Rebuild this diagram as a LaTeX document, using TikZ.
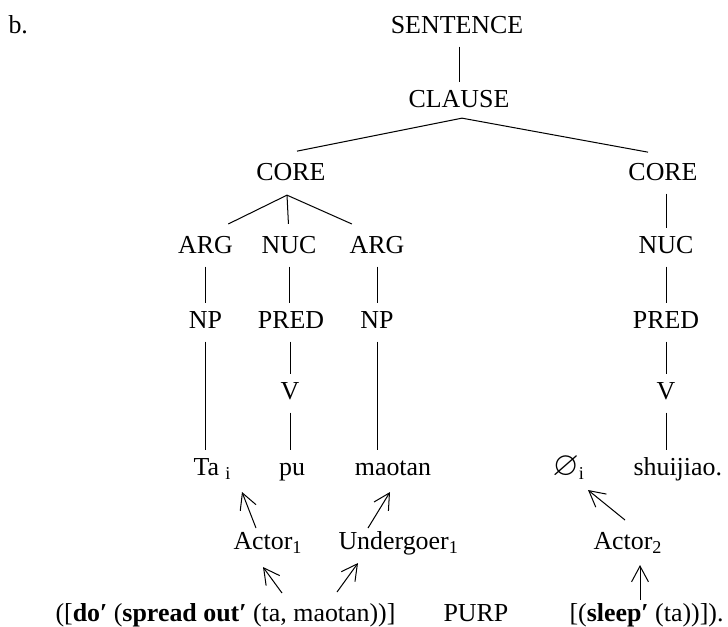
\documentclass[tikz,border=0pt,12pt]{standalone}
\usepackage{amssymb}
\usepackage{fontspec}
\setmainfont{Liberation Serif}
\usepackage{tikz}
\usetikzlibrary{calc}
\usetikzlibrary{arrows.meta}
\tikzset{>={Straight Barb[length=7pt,width=7.5pt]}}
\tikzset{lab/.style={inner sep=0pt, text height=7.7pt, text depth=2.5pt, anchor=base}}
\tikzset{labw/.style={lab, anchor=base west}}
\tikzset{branch/.style={shorten <=3.3pt, shorten >=3pt}}

\begin{document}
\begin{tikzpicture}[x=0.444pt, y=-0.444pt, line width=0.45pt, font=\fontsize{11.5pt}{14pt}\selectfont]
                \useasboundingbox (0,0) rectangle (728,626);
                \node[labw] (ex) at (8,33) {b.};
                \node[lab] (sent) at (457,33) {SENTENCE};
                \node[lab] (clause) at (459,107) {CLAUSE};
                \node[lab] (coreA) at (291,180) {CORE};
                \node[lab] (coreB) at (663,180) {CORE};
                \node[lab] (argA) at (205.5,253) {ARG};
                \node[lab] (nucA) at (289,253) {NUC};
                \node[lab] (argB) at (377,253) {ARG};
                \node[lab] (nucB) at (666,253) {NUC};
                \node[lab] (npA) at (205.5,328) {NP};
                \node[lab] (predA) at (291,328) {PRED};
                \node[lab] (npB) at (377,328) {NP};
                \node[lab] (predB) at (666,328) {PRED};
                \node[lab] (vA) at (290,399) {V};
                \node[lab] (vB) at (666,399) {V};
                \node[labw] (taA) at (193,475) {Ta \textsubscript{i}};
                \node[lab] (pu) at (292,475) {pu};
                \node[lab] (maotan) at (393,475) {maotan};
                \node[labw] (nullB) at (552,475) {{\fontsize{15pt}{15pt}\selectfont$\varnothing$}\textsubscript{i}};
                \node[labw] (shui) at (633,475) {shuijiao.};
                \node[labw] (actorA) at (233,549) {Actor\textsubscript{1}};
                \node[labw] (under) at (338,549) {Undergoer\textsubscript{1}};
                \node[labw] (actorB) at (593,549) {Actor\textsubscript{2}};
                \node[labw] (lfA) at (55,621) {([\textbf{do′} (\textbf{spread out′} (ta, maotan))]};
                \node[labw] (purp) at (443,621) {PURP};
                \node[labw] (lfB) at (569,621) {[(\textbf{sleep′} (ta))]).};

                \draw[branch] (sent.south -| clause) -- (clause);
                \coordinate (clauseFork) at ($(clause.south)+(3,5)$);
                \draw (clauseFork) -- ($(coreA.north)+(6,-11)$);
                \draw (clauseFork) -- ($(coreB.north)+(-15,-10)$);
                \coordinate (coreFork) at ($(coreA.south)+(-4,9)$);
                \foreach \kid in {argA,nucA,argB}
                    \draw (coreFork) -- ($(coreFork)!.72!(\kid.north)$);
                \draw[branch] (argA) -- (npA);
                \draw[branch] (nucA) -- (nucA |- predA.north);
                \draw[branch] (argB) -- (npB);
                \draw[branch] (predA.south -| vA) -- (vA);
                \draw[branch] (vA) -- (vA |- pu.north);
                \draw[branch] (npA) -- (npA |- taA.north);
                \draw[branch] (npB) -- (npB |- maotan.north);
                \draw[branch] (coreB.south -| nucB) -- (nucB);
                \draw[branch] (nucB) -- (predB);
                \draw[branch] (predB) -- (vB);
                \draw[branch] (vB) -- (vB |- shui.north);

                \draw[->] ($(actorA.base west)+(23,-21)$) -- ($(taA.base west)+(49,17)$);
                \draw[->] ($(under.base west)+(30,-21)$) -- ($(maotan.base)+(-3,17)$);
                \draw[->] ($(lfA.base west)+(227,-28)$) -- ($(actorA.base west)+(30,18)$);
                \draw[->] ($(lfA.base west)+(282,-29)$) -- ($(under.base west)+(20,14)$);
                \draw[->] ($(actorB.base west)+(32,-29)$) -- ($(nullB.base west)+(36,15)$);
                \draw[->] ($(lfB.base west)+(71,-21)$) -- ($(actorB.base west)+(47,16)$);
            \end{tikzpicture}
\end{document}
